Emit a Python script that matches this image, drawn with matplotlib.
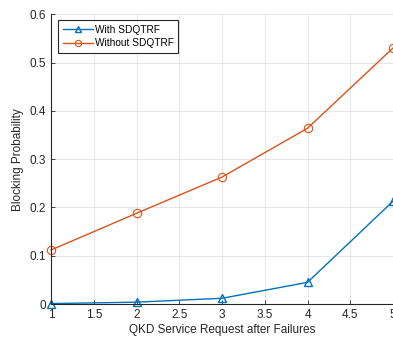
import numpy as np
import matplotlib.pyplot as plt

plt.rcParams['font.family'] = ['Liberation Sans', 'DejaVu Sans']

requests = [1, 2, 3, 4, 5]
with_sdqtrf = [0.001, 0.004, 0.012, 0.045, 0.213]
without_sdqtrf = [0.112, 0.188, 0.263, 0.364, 0.530]

fig = plt.figure(figsize=(3.93, 3.39), dpi=100)
ax = fig.add_axes([0.13, 0.103, 0.87, 0.855])

ax.plot(requests, with_sdqtrf, color='#0072BD', lw=1, marker='^', ms=6,
        mfc='none', mew=1, label='With SDQTRF', clip_on=False)
ax.plot(requests, without_sdqtrf, color='#D95319', lw=1, marker='o', ms=6,
        mfc='none', mew=0.8, label='Without SDQTRF', clip_on=False)

ax.set_xlim(1, 5)
ax.set_ylim(0, 0.6)
ax.set_xticks(np.arange(1, 5.01, 0.5))
ax.set_xticklabels(['1', '1.5', '2', '2.5', '3', '3.5', '4', '4.5', '5'])
ax.set_yticks(np.arange(0, 0.61, 0.1))
ax.set_yticklabels(['0', '0.1', '0.2', '0.3', '0.4', '0.5', '0.6'])
ax.grid(True, color='#e3e3e3', lw=0.6)
ax.set_axisbelow(True)
ax.tick_params(direction='in', labelsize=8.5, length=3, width=0.6, colors='#262626')
for s in ['top', 'right']:
    ax.spines[s].set_visible(False)
for s in ['left', 'bottom']:
    ax.spines[s].set_color('#262626')
    ax.spines[s].set_linewidth(0.8)

ax.set_xlabel('QKD Service Request after Failures', fontsize=8.5, color='#262626', labelpad=2)
ax.set_ylabel('Blocking Probability', fontsize=8.5, color='#262626', labelpad=4)

leg = ax.legend(loc='upper left', bbox_to_anchor=(0.012, 0.99), fontsize=7.3,
                fancybox=False, framealpha=1, edgecolor='#262626', markerscale=0.75,
                handlelength=3.0, handletextpad=0.15, borderpad=0.45, labelspacing=0.35,
                borderaxespad=0.3)
leg.get_frame().set_linewidth(0.8)

fig.savefig('out.png', dpi=100)
